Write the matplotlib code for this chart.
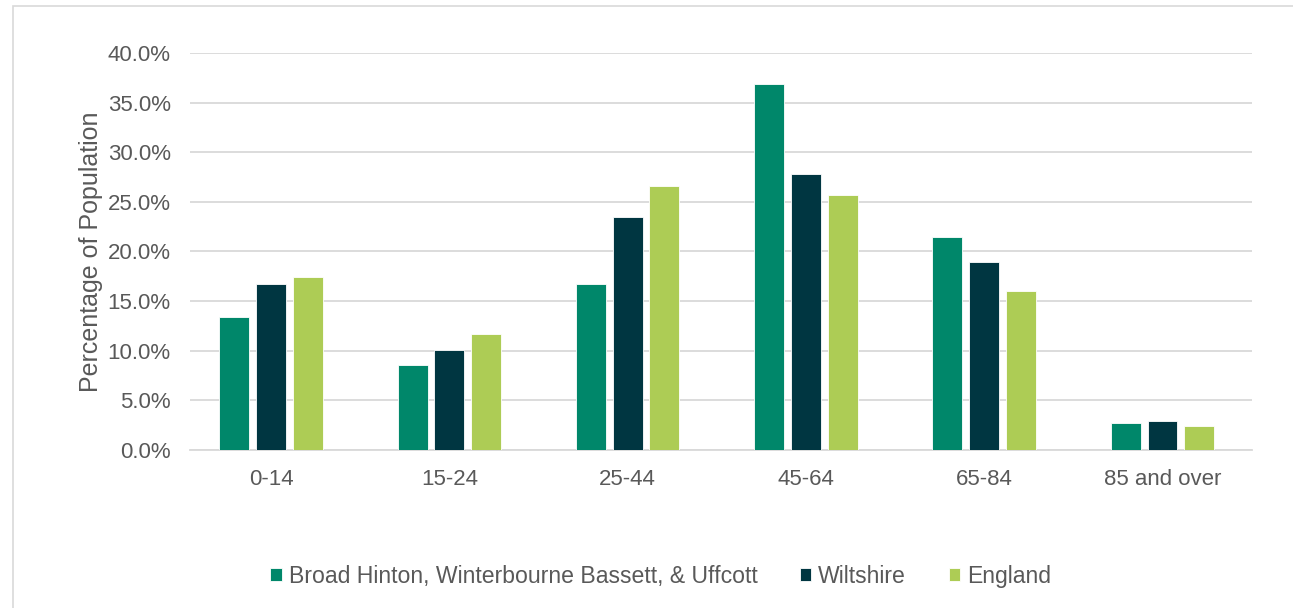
import numpy as np
import matplotlib
matplotlib.use("Agg")
import matplotlib.pyplot as plt
from matplotlib.patches import Rectangle

plt.rcParams['font.family'] = ['Liberation Sans', 'DejaVu Sans']

# data
age_groups = ['0-14', '15-24', '25-44', '45-64', '65-84', '85 and over']
broad_hinton = [13.4, 8.6, 16.7, 36.9, 21.5, 2.7]
wiltshire = [16.7, 10.1, 23.5, 27.8, 18.9, 2.95]
england = [17.4, 11.7, 26.6, 25.7, 16.0, 2.45]

series = ['Broad Hinton, Winterbourne Bassett, & Uffcott', 'Wiltshire', 'England']
colors = ['#00876A', '#003641', '#ADCC55']
text_col = '#595959'

fig = plt.figure(figsize=(12.93, 6.08), dpi=100)
fig.patches.append(Rectangle((0.010, -0.01), 1.0, 1.0, transform=fig.transFigure,
                             fill=False, edgecolor='#D9D9D9', linewidth=1.2))
ax = fig.add_axes([0.147, 0.2599, 0.821, 0.6529])

x = np.arange(len(age_groups))
w = 0.168
step = 0.206
for i, (vals, c, lab) in enumerate(zip([broad_hinton, wiltshire, england], colors, series)):
    ax.bar(x + (i - 1) * step, vals, width=w, color=c, label=lab,
           edgecolor='white', linewidth=0.6, zorder=3)

ax.set_xlim(-0.454, 5.5)
ax.set_ylim(0, 40)
ax.set_yticks(np.arange(0, 41, 5))
ax.set_yticklabels([f'{v:.1f}%' for v in np.arange(0, 41, 5)])
ax.set_xticks(x)
ax.set_xticklabels(age_groups)
ax.grid(axis='y', color='#D9D9D9', linewidth=1.3, zorder=0)
for s in ['top', 'right', 'left']:
    ax.spines[s].set_visible(False)
ax.spines['bottom'].set_color('#D9D9D9')
ax.spines['bottom'].set_linewidth(1.3)
ax.tick_params(axis='both', length=0, labelsize=16, colors=text_col)
ax.tick_params(axis='y', pad=14)
ax.tick_params(axis='x', pad=14)
ax.set_ylabel('Percentage of Population', fontsize=18, color=text_col, labelpad=3)

leg = fig.legend(loc='center', bbox_to_anchor=(0.511, 0.052), ncol=3, frameon=False,
                 fontsize=16.6, handlelength=0.5, handleheight=0.5, handletextpad=0.3,
                 columnspacing=1.85)
for t in leg.get_texts():
    t.set_color(text_col)

fig.savefig('out.png', dpi=100)
